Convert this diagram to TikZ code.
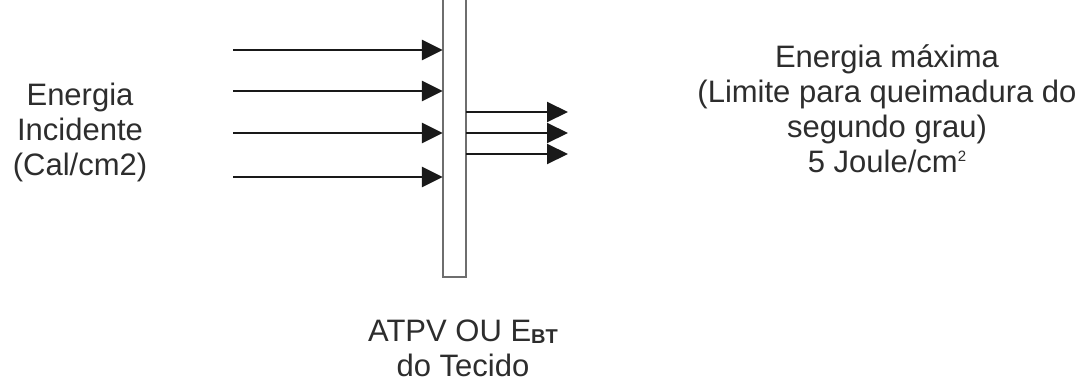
\documentclass[tikz,border=0pt]{standalone}
\usepackage{fontspec}
\setmainfont{Liberation Sans}
\usetikzlibrary{arrows.meta}
\definecolor{txt}{RGB}{45,45,45}
\definecolor{arr}{RGB}{25,25,25}
\definecolor{barc}{RGB}{110,110,110}
\tikzset{
  lbl/.style={align=center, text=txt, inner sep=0pt, font=\fontsize{31}{35}\selectfont},
  inarrow/.style={draw=arr, line width=2.7pt, -{Triangle[length=21pt,width=20pt]}},
  outarrow/.style={draw=arr, line width=2pt, -{Triangle[length=21pt,width=20pt]}},
  barline/.style={draw=barc, line width=2pt}
}
\begin{document}
\begin{tikzpicture}[x=1pt,y=-1pt]
\clip (0,0) rectangle (1089,381);
\fill[white] (0,0) rectangle (1089,381);
% fabric bar
\node[minimum width=23pt, minimum height=290pt, inner sep=0pt, draw=none] (bar) at (454.5,132) {};
\draw[barline] (bar.north west) -- (bar.south west) -- (bar.south east) -- (bar.north east);
% incoming arrows
\coordinate (a1) at (233,50);
\coordinate (a2) at (233,91);
\coordinate (a3) at (233,133);
\coordinate (a4) at (233,177);
\foreach \i in {1,2,3,4} \draw[inarrow] (a\i) -- (bar.west |- a\i);
% outgoing arrows
\coordinate (b1) at (568,112);
\coordinate (b2) at (568,133);
\coordinate (b3) at (568,154);
\foreach \i in {1,2,3} \draw[outarrow] (bar.east |- b\i) -- (b\i);
% labels
\node[lbl] (inc) at (80,132) {Energia\\Incidente\\(Cal/cm2)};
\node[lbl] (max) at (887,109) {Energia máxima\\(Limite para queimadura do\\segundo grau)\\5 Joule/cm\raisebox{11pt}{\fontsize{15}{15}\selectfont 2}};
\node[lbl] (atpv) at (463,348) {ATPV OU E\raisebox{-2pt}{\fontsize{20}{20}\selectfont\bfseries BT}\\do Tecido};
\end{tikzpicture}
\end{document}
